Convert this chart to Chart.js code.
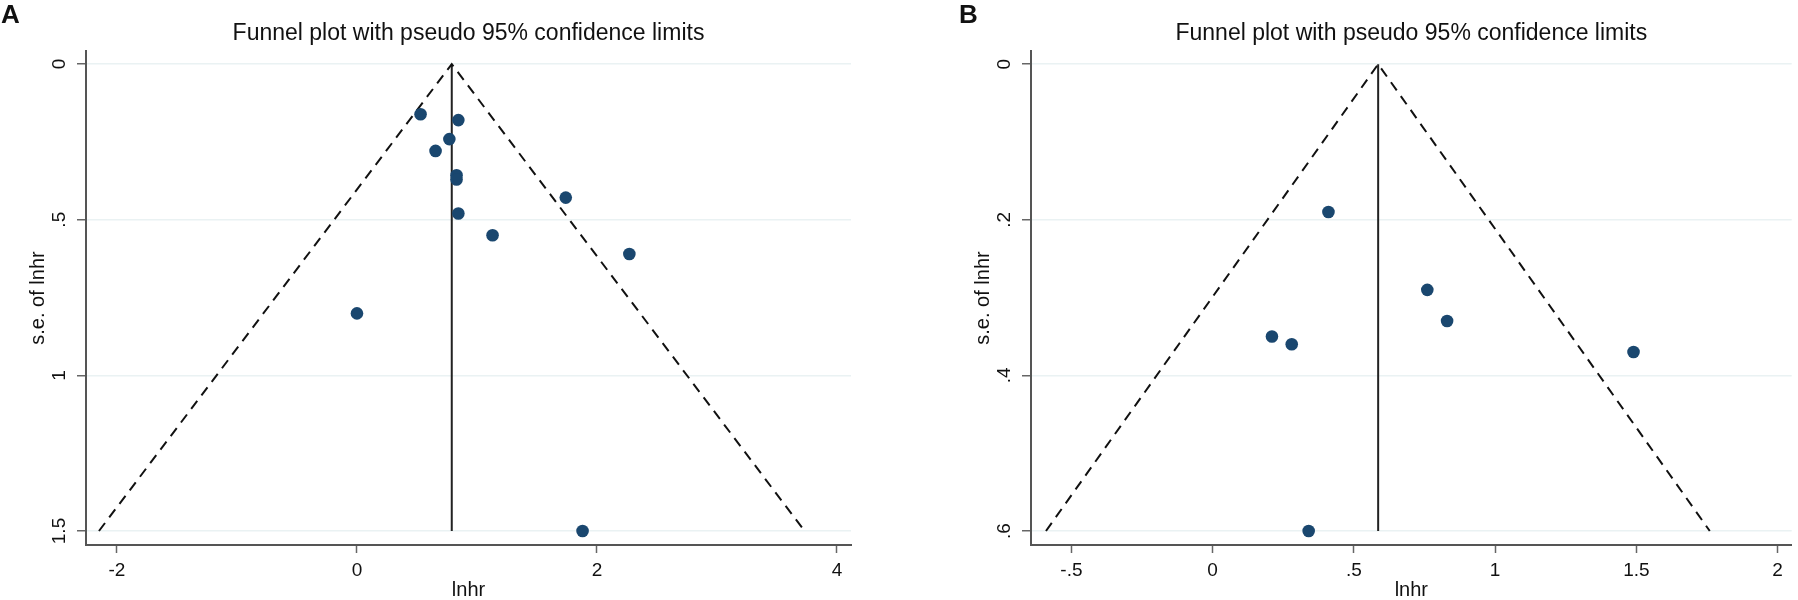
<!DOCTYPE html>
<html>
<head>
<meta charset="utf-8">
<script src="https://cdn.jsdelivr.net/npm/chart.js@4.4.1/dist/chart.umd.min.js"></script>
<style>
  html, body { margin: 0; padding: 0; background: #fff; }
  body { width: 1798px; height: 600px; position: relative; overflow: hidden; }
  .panel { position: absolute; top: 0; height: 600px; }
  #panelA { left: 0; width: 900px; }
  #panelB { left: 900px; width: 898px; }
</style>
</head>
<body>
<div class="panel" id="panelA"><canvas id="chartA"></canvas></div>
<div class="panel" id="panelB"><canvas id="chartB"></canvas></div>
<script>
// Panel A: studies (lnhr vs s.e. of lnhr)
const lnhrA = [0.53, 0.845, 0.77, 0.655, 0.83, 0.83, 1.74, 0.845, 1.13, 2.27, 0.00, 1.88];
const seA = [0.161, 0.180, 0.241, 0.279, 0.357, 0.371, 0.429, 0.480, 0.550, 0.610, 0.801, 1.50];
// pseudo 95% limits: left end, apex, right end
const funnelXA = [-2.15, 0.79, 3.73];
const funnelYA = [1.5, 0, 1.5];
const xTicksA = [-2, 0, 2, 4];
const xLabelsA = ['-2', '0', '2', '4'];
const yTicksA = [0, 0.5, 1, 1.5];
const yLabelsA = ['0', '.5', '1', '1.5'];

// Panel B
const lnhrB = [0.41, 0.76, 0.83, 0.21, 0.28, 1.49, 0.34];
const seB = [0.190, 0.290, 0.330, 0.350, 0.360, 0.370, 0.600];
const funnelXB = [-0.59, 0.586, 1.76];
const funnelYB = [0.6, 0, 0.6];
const xTicksB = [-0.5, 0, 0.5, 1, 1.5, 2];
const xLabelsB = ['-.5', '0', '.5', '1', '1.5', '2'];
const yTicksB = [0, 0.2, 0.4, 0.6];
const yLabelsB = ['0', '.2', '.4', '.6'];

const FONT = '"Liberation Sans", Arial, Helvetica, sans-serif';
const TITLE = 'Funnel plot with pseudo 95% confidence limits';

// draws rotated y tick labels, the panel letter and the title
const textPlugin = {
    id: 'stataText',
    afterDraw(chart, args, opts) {
        const ctx = chart.ctx;
        const area = chart.chartArea;
        const y = chart.scales.y;
        ctx.save();
        ctx.fillStyle = '#111';
        ctx.font = '19px ' + FONT;
        ctx.textAlign = 'center';
        ctx.textBaseline = 'middle';
        y.ticks.forEach((t, i) => {
            const py = y.getPixelForValue(t.value);
            ctx.save();
            ctx.translate(area.left - 26, py);
            ctx.rotate(-Math.PI / 2);
            ctx.fillText(opts.yLabels[i], 0, 0);
            ctx.restore();
        });
        ctx.font = '23px ' + FONT;
        ctx.fillText(TITLE, (area.left + area.right) / 2, 34);
        ctx.font = 'bold 26px ' + FONT;
        ctx.textAlign = 'left';
        ctx.fillText(opts.letter, opts.letterX, 16);
        ctx.restore();
    }
};

function makeChart(id, cfg) {
    const points = cfg.xs.map((x, i) => ({ x: x, y: cfg.ys[i] }));
    const funnel = cfg.funnelX.map((x, i) => ({ x: x, y: cfg.funnelY[i] }));
    const apex = [{ x: cfg.funnelX[1], y: 0 }, { x: cfg.funnelX[1], y: cfg.funnelY[0] }];

    return new Chart(document.getElementById(id), {
        type: 'scatter',
        data: {
            datasets: [{
                label: 'studies',
                data: points,
                pointRadius: 6.3,
                pointHoverRadius: 6.3,
                backgroundColor: '#1a476f',
                borderColor: '#1a476f',
                borderWidth: 0
            }, {
                label: 'limits',
                type: 'line',
                data: funnel,
                borderColor: '#111',
                borderWidth: 2,
                borderDash: [10, 7],
                pointRadius: 0,
                tension: 0,
                fill: false
            }, {
                label: 'estimate',
                type: 'line',
                data: apex,
                borderColor: '#222',
                borderWidth: 2,
                pointRadius: 0,
                fill: false
            }]
        },
        options: {
            responsive: false,
            animation: false,
            devicePixelRatio: 1,
            layout: { padding: { left: 0, right: cfg.padRight, top: 51, bottom: 0 } },
            plugins: {
                legend: { display: false },
                tooltip: { enabled: false },
                title: { display: false },
                stataText: { yLabels: cfg.yLabels, letter: cfg.letter, letterX: cfg.letterX }
            },
            scales: {
                x: {
                    type: 'linear',
                    min: cfg.xMin,
                    max: cfg.xMax,
                    afterBuildTicks: s => { s.ticks = cfg.xTicks.map(v => ({ value: v })); },
                    afterFit: s => { s.height = 55; },
                    ticks: {
                        padding: 6,
                        color: '#111',
                        font: { family: FONT, size: 19 },
                        maxRotation: 0,
                        callback: (v, i) => cfg.xLabels[i]
                    },
                    grid: { drawOnChartArea: false, drawTicks: true, tickLength: 8, tickColor: '#666', tickWidth: 1.5 },
                    border: { color: '#555', width: 2 },
                    title: {
                        display: true,
                        text: 'lnhr',
                        color: '#111',
                        font: { family: FONT, size: 20, lineHeight: 1 },
                        padding: { top: 0, bottom: 0 }
                    }
                },
                y: {
                    type: 'linear',
                    reverse: true,
                    min: cfg.yMin,
                    max: cfg.yMax,
                    afterBuildTicks: s => { s.ticks = cfg.yTicks.map(v => ({ value: v })); },
                    afterFit: s => { s.width = cfg.yWidth; },
                    ticks: { display: false },
                    grid: { color: '#eaf2f3', lineWidth: 1.5, drawTicks: true, tickLength: 9, tickColor: '#666', tickWidth: 1.5 },
                    border: { color: '#555', width: 2 },
                    title: {
                        display: true,
                        text: 's.e. of lnhr',
                        color: '#111',
                        font: { family: FONT, size: 20, lineHeight: 1 },
                        padding: { top: cfg.yTitlePad, bottom: 0 }
                    }
                }
            }
        },
        plugins: [textPlugin]
    });
}

function sizeCanvas(id, w) {
    const c = document.getElementById(id);
    c.width = w;
    c.height = 600;
    c.style.width = w + 'px';
    c.style.height = '600px';
}

sizeCanvas('chartA', 900);
sizeCanvas('chartB', 898);

makeChart('chartA', {
    xs: lnhrA, ys: seA, funnelX: funnelXA, funnelY: funnelYA,
    xTicks: xTicksA, xLabels: xLabelsA, yTicks: yTicksA, yLabels: yLabelsA,
    xMin: -2.258, xMax: 4.117, yMin: -0.042, yMax: 1.545,
    yWidth: 86, padRight: 49, yTitlePad: 28,
    letter: 'A', letterX: 1
});

makeChart('chartB', {
    xs: lnhrB, ys: seB, funnelX: funnelXB, funnelY: funnelYB,
    xTicks: xTicksB, xLabels: xLabelsB, yTicks: yTicksB, yLabels: yLabelsB,
    xMin: -0.643, xMax: 2.050, yMin: -0.017, yMax: 0.618,
    yWidth: 131, padRight: 1, yTitlePad: 73,
    letter: 'B', letterX: 59
});
</script>
</body>
</html>
